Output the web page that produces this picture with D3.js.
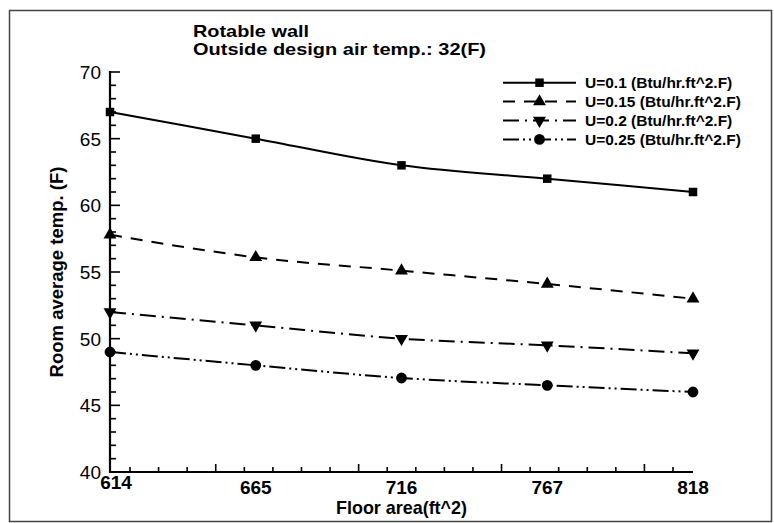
<!DOCTYPE html>
<html><head><meta charset="utf-8">
<script src="https://cdn.jsdelivr.net/npm/d3@7"></script>
<style>
html,body{margin:0;padding:0;background:#fff;}
svg{display:block;font-family:"Liberation Sans",Arial,Helvetica,sans-serif;}
</style></head>
<body>
<svg id="chart" width="774" height="523"></svg>
<script>
// ---- data ----
const floorAreas = [614, 665, 716, 767, 818];
const xTickLabels = ["614", "665", "716", "767", "818"];
const seriesNames = ["U=0.1 (Btu/hr.ft^2.F)", "U=0.15 (Btu/hr.ft^2.F)", "U=0.2 (Btu/hr.ft^2.F)", "U=0.25 (Btu/hr.ft^2.F)"];
const u010 = [67, 65, 63, 62, 61];
const u015 = [57.8, 56.1, 55.1, 54.1, 53.0];
const u020 = [52, 51, 50, 49.5, 48.9];
const u025 = [49, 48, 47.05, 46.5, 46];
const yTickValues = [40, 45, 50, 55, 60, 65, 70];
const titleLines = ["Rotable wall", "Outside design air temp.: 32(F)"];
const xTitle = "Floor area(ft^2)";
const yTitle = "Room average temp. (F)";

// ---- styles ----
const series = [
  {name: seriesNames[0], values: u010, dash: null, sym: "square"},
  {name: seriesNames[1], values: u015, dash: "12,9", sym: "tri"},
  {name: seriesNames[2], values: u020, dash: "16,6,2,6", sym: "triDown"},
  {name: seriesNames[3], values: u025, dash: "16,4,2,4,2,4", sym: "circle"}
];

const svg = d3.select("#chart");
// outer frame
svg.append("rect").attr("x", 9.5).attr("y", 10.5).attr("width", 762).attr("height", 511)
  .attr("fill", "none").attr("stroke", "#444").attr("stroke-width", 1.5);

const x = d3.scaleLinear().domain([614, 818]).range([110, 693]);
const y = d3.scaleLinear().domain([40, 70]).range([472, 72]);

const g = svg.append("g");
// y axis ticks: minor every 1, major every 5
const yMinor = d3.range(40, 71, 1);
g.selectAll(".ymin").data(yMinor).enter().append("line")
  .attr("x1", 110).attr("x2", d => d % 5 === 0 ? 120 : 116)
  .attr("y1", d => y(d)).attr("y2", d => y(d))
  .attr("stroke", "#000").attr("stroke-width", 1.6);
// x axis ticks (minor every 10, major every 50)
const xMinor = d3.range(621, 812, 10);
g.selectAll(".xmin").data(xMinor).enter().append("line")
  .attr("x1", d => x(d)).attr("x2", d => x(d))
  .attr("y1", 472).attr("y2", d => ((d - 601) % 50 === 0) ? 464 : 467)
  .attr("stroke", "#000").attr("stroke-width", 1.6);

// axis lines
g.append("line").attr("x1", 110).attr("x2", 110).attr("y1", 71).attr("y2", 473).attr("stroke", "#000").attr("stroke-width", 2.2);
g.append("line").attr("x1", 109).attr("x2", 693).attr("y1", 472).attr("y2", 472).attr("stroke", "#000").attr("stroke-width", 2.2);

// y tick labels
g.selectAll(".ylab").data(yTickValues).enter().append("text")
  .attr("x", 101).attr("y", d => y(d) + 7)
  .attr("text-anchor", "end").attr("font-size", 19).attr("fill", "#000")
  .text(d => d);

// x tick labels
g.selectAll(".xlab").data(floorAreas).enter().append("text")
  .attr("x", (d, i) => i === 0 ? x(d) + 6 : x(d))
  .attr("y", (d, i) => i === 0 ? 489 : 494)
  .attr("text-anchor", "middle").attr("font-size", 19).attr("font-weight", "bold")
  .text((d, i) => xTickLabels[i]);

// axis titles
svg.append("text").attr("x", 401.5).attr("y", 514).attr("text-anchor", "middle")
  .attr("font-size", 19).attr("font-weight", "bold")
  .attr("textLength", 131).attr("lengthAdjust", "spacingAndGlyphs").text(xTitle);
svg.append("text").attr("transform", "translate(63,272) rotate(-90)").attr("text-anchor", "middle")
  .attr("font-size", 18.5).attr("font-weight", "bold").text(yTitle);

// title
svg.append("text").attr("x", 193).attr("y", 37).attr("font-size", 17).attr("font-weight", "bold")
  .attr("textLength", 116).attr("lengthAdjust", "spacingAndGlyphs").text(titleLines[0]);
svg.append("text").attr("x", 193).attr("y", 55).attr("font-size", 17).attr("font-weight", "bold")
  .attr("textLength", 293).attr("lengthAdjust", "spacingAndGlyphs").text(titleLines[1]);

// symbols
function symPath(s) {
  if (s === "square") return d3.symbol(d3.symbolSquare, 72)();
  if (s === "tri" || s === "triDown") return d3.symbol(d3.symbolTriangle, 72)();
  return d3.symbol(d3.symbolCircle, 92)();
}
function symTransform(s, px, py) {
  return s === "triDown" ? `translate(${px},${py}) rotate(180)` : `translate(${px},${py})`;
}

const line = d3.line().x((d, i) => x(floorAreas[i])).y(d => y(d)).curve(d3.curveMonotoneX);

series.forEach(s => {
  svg.append("path").datum(s.values).attr("d", line)
    .attr("fill", "none").attr("stroke", "#000").attr("stroke-width", 2)
    .attr("stroke-dasharray", s.dash);
  svg.selectAll(null).data(s.values).enter().append("path")
    .attr("d", symPath(s.sym))
    .attr("transform", (d, i) => symTransform(s.sym, x(floorAreas[i]), y(d)))
    .attr("fill", "#000");
});

// legend
const legX1 = 503, legX2 = 576, legTextX = 585;
series.forEach((s, i) => {
  const ly = 82.7 + i * 18.9;
  svg.append("line").attr("x1", legX1).attr("x2", legX2).attr("y1", ly).attr("y2", ly)
    .attr("stroke", "#000").attr("stroke-width", 2).attr("stroke-dasharray", s.dash);
  svg.append("path").attr("d", symPath(s.sym))
    .attr("transform", symTransform(s.sym, (legX1 + legX2) / 2, ly)).attr("fill", "#000");
  svg.append("text").attr("x", legTextX).attr("y", ly + 5.5)
    .attr("font-size", 15.5).attr("font-weight", "bold").text(s.name);
});
</script>
</body></html>
